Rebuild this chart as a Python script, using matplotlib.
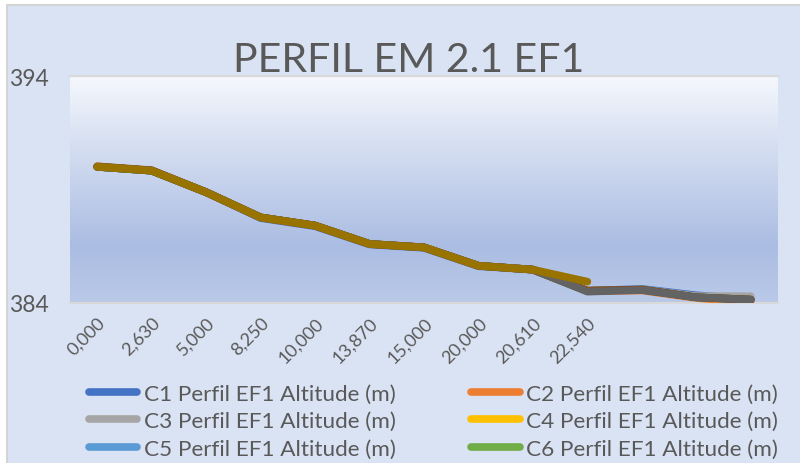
import matplotlib
matplotlib.use("Agg")
import matplotlib.pyplot as plt
import numpy as np
from matplotlib.patches import Rectangle

plt.rcParams['font.family'] = ['Lato', 'DejaVu Sans']

# distances (x categories); the last three have no label in the chart
labels = ["0,000", "2,630", "5,000", "8,250", "10,000", "13,870", "15,000",
          "20,000", "20,610", "22,540", "", "", ""]

nan = np.nan
c1 = [390.00, 389.83, 388.88, 387.74, 387.38, 386.58, 386.43, 385.62, 385.47, 384.54, 384.62, 384.34, 384.18]
c2 = [390.02, 389.83, 388.88, 387.77, 387.41, 386.60, 386.45, 385.64, 385.47, 384.52, 384.55, 384.22, 384.03]
c3 = [390.00, 389.83, 388.88, 387.77, 387.41, 386.60, 386.45, 385.64, 385.47, 384.54, 384.59, 384.30, 384.30]
c4 = [390.00, 389.83, 388.88, 387.77, 387.41, 386.60, 386.45, 385.64, 385.47, 384.54, 384.59, 384.25, 384.15]
c5 = [390.00, 389.83, 388.88, 387.77, 387.41, 386.60, 386.45, 385.64, 385.47, 384.54, 384.59, 384.25, 384.15]
c6 = [390.00, 389.83, 388.88, 387.77, 387.41, 386.60, 386.45, 385.64, 385.47, 384.54, 384.59, 384.25, 384.15]
c7 = [390.00, 389.83, 388.88, 387.77, 387.41, 386.60, 386.45, 385.64, 385.47, 384.54, 384.59, 384.25, 384.15]
c8 = [390.02, 389.85, 388.88, 387.77, 387.41, 386.60, 386.45, 385.64, 385.47, 384.54, 384.59, 384.25, 384.15]
c9 = [390.00, 389.83, 388.88, 387.77, 387.41, 386.60, 386.45, 385.64, 385.47, 384.50, 384.57, 384.25, 384.15]
c10 = [390.00, 389.83, 388.88, 387.77, 387.41, 386.60, 386.45, 385.64, 385.47, 384.94, nan, nan, nan]

series = [c1, c2, c3, c4, c5, c6, c7, c8, c9, c10]
names = ["C%d Perfil EF1 Altitude (m)" % (i + 1) for i in range(10)]
colors = ["#4472C4", "#ED7D31", "#A5A5A5", "#FFC000", "#5B9BD5",
          "#70AD47", "#264478", "#9E480E", "#636363", "#997300"]

fig = plt.figure(figsize=(8, 4.64), dpi=100)
fig.patch.set_facecolor("white")
# chart area with thin border (cut by image edges on right/bottom)
fig.patches.append(Rectangle((7/800, -0.2), 1.2, 1.2 - 6/464, transform=fig.transFigure,
                             facecolor="#dae3f3", edgecolor="#d4d4d4", linewidth=1.5, zorder=-5))

ax = fig.add_axes([70/800, 1 - 304/464, 708/800, 227/464])
ax.set_zorder(2)
ax.set_facecolor("none")

# gradient plot area
stops = np.array([0.00, 0.35, 0.75, 1.00])
cols = np.array([(0.96, 0.97, 0.99), (0.82, 0.86, 0.94),
                 (0.67, 0.74, 0.89), (0.73, 0.79, 0.91)])
t = np.linspace(0, 1, 256)
img = np.stack([np.interp(t, stops, cols[:, k]) for k in range(3)], axis=1)[:, None, :]
ax.imshow(img, extent=[-0.5, 12.5, 384, 394], aspect="auto", zorder=0, origin="upper")

x = np.arange(len(labels))
lines = []
for s, n, c in zip(series, names, colors):
    ln, = ax.plot(x, s, color=c, lw=5.5, solid_capstyle="round", solid_joinstyle="round", label=n, zorder=3)
    lines.append(ln)

ax.set_xlim(-0.5, 12.5)
ax.set_ylim(384, 394)
ax.set_yticks([384, 394])
ax.set_xticks(x)
ax.set_xticklabels(labels, rotation=45, ha="right", rotation_mode="anchor")
ax.tick_params(axis="y", length=0, labelsize=16.5, labelcolor="#595959", pad=15)
ax.tick_params(axis="x", length=0, labelsize=13, labelcolor="#595959", pad=8)
for sp in ["left", "right"]:
    ax.spines[sp].set_visible(False)
for sp in ["top", "bottom"]:
    ax.spines[sp].set_color("#d9d9d9")
    ax.spines[sp].set_linewidth(1.5)

fig.text(0.511, 1 - 61/464, "PERFIL EM 2.1 EF1", ha="center", va="center",
         fontsize=29.5, color="#595959")

# legend shows first six entries (row-major, two columns)
order = [0, 2, 4, 1, 3, 5]
fig.legend([lines[i] for i in order], [names[i] for i in order],
           loc="upper left", bbox_to_anchor=(89/800, 1 - 385/464), ncol=2, frameon=False,
           fontsize=16.2, labelcolor="#595959", handlelength=2.15, handletextpad=0.3,
           columnspacing=3.35, labelspacing=0.32, borderaxespad=0, borderpad=0)

fig.savefig("out.png", dpi=100)
